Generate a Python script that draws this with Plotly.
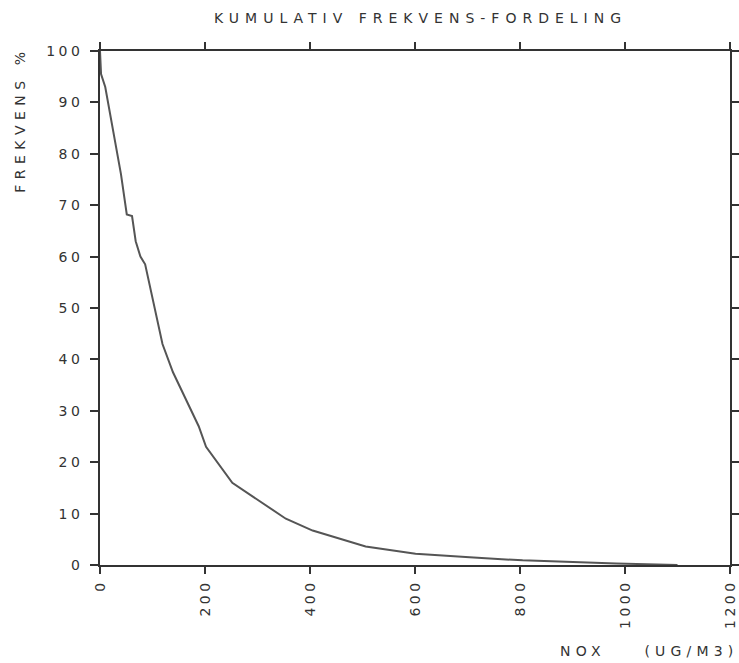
import plotly.graph_objects as go

# Cumulative frequency distribution of NOX concentrations
nox = [0, 2, 10, 40, 51, 61, 68, 77, 86, 100, 119, 139, 165, 188, 202, 252, 354, 405, 506, 601, 704, 805, 983, 1100]
freq = [100, 95.5, 93, 76, 68.2, 67.9, 63, 60, 58.5, 52, 43, 37.5, 32, 27, 23, 16, 9, 6.7, 3.6, 2.2, 1.5, 0.9, 0.3, 0]

x_ticks = [0, 200, 400, 600, 800, 1000, 1200]
y_ticks = [0, 10, 20, 30, 40, 50, 60, 70, 80, 90, 100]

title_text = "KUMULATIV FREKVENS-FORDELING"
y_title = "FREKVENS %"
x_title = "NOX\u00a0\u00a0\u00a0\u00a0(UG/M3)"

FONT = "DejaVu Sans"
INK = "#333333"


def spaced(s, gap):
    return f'<span style="letter-spacing:{gap}px">{s}</span>'


fig = go.Figure()
fig.add_trace(go.Scatter(
    x=nox, y=freq, mode="lines",
    line=dict(color="#555555", width=2),
    showlegend=False, hoverinfo="skip",
))

axis_common = dict(
    showline=True, linecolor=INK, linewidth=1.5,
    mirror="ticks", ticks="outside", tickcolor=INK, tickwidth=1.5,
    showgrid=False, zeroline=False, automargin=False,
    tickfont=dict(family=FONT, size=14, color=INK),
)

fig.update_xaxes(
    range=[0, 1200], tickmode="array", tickvals=x_ticks,
    ticktext=[spaced(str(v), 3.5) for v in x_ticks],
    tickangle=-90, ticklen=7, **axis_common,
)
fig.update_yaxes(
    range=[0, 100], tickmode="array", tickvals=y_ticks,
    ticktext=[spaced(str(v), 3.5) for v in y_ticks],
    ticklen=8, ticklabelstandoff=4, **axis_common,
)

fig.add_annotation(
    text=spaced(title_text, 6), xref="paper", yref="paper",
    x=0.509, y=1.064, xanchor="center", yanchor="middle", showarrow=False,
    font=dict(family=FONT, size=14, color=INK),
)
fig.add_annotation(
    text=spaced(y_title, 5.5), xref="paper", yref="paper",
    x=-0.127, y=0.866, xanchor="center", yanchor="middle", showarrow=False,
    textangle=-90, font=dict(family=FONT, size=14, color=INK),
)
fig.add_annotation(
    text=spaced(x_title, 5.2), xref="paper", yref="paper",
    x=1.018, y=-0.167, xanchor="right", yanchor="middle", showarrow=False,
    font=dict(family=FONT, size=14, color=INK),
)

fig.update_layout(
    width=739, height=663,
    margin=dict(l=100, r=9, t=51, b=98),
    paper_bgcolor="white", plot_bgcolor="white",
)

fig.write_html("out.html")
